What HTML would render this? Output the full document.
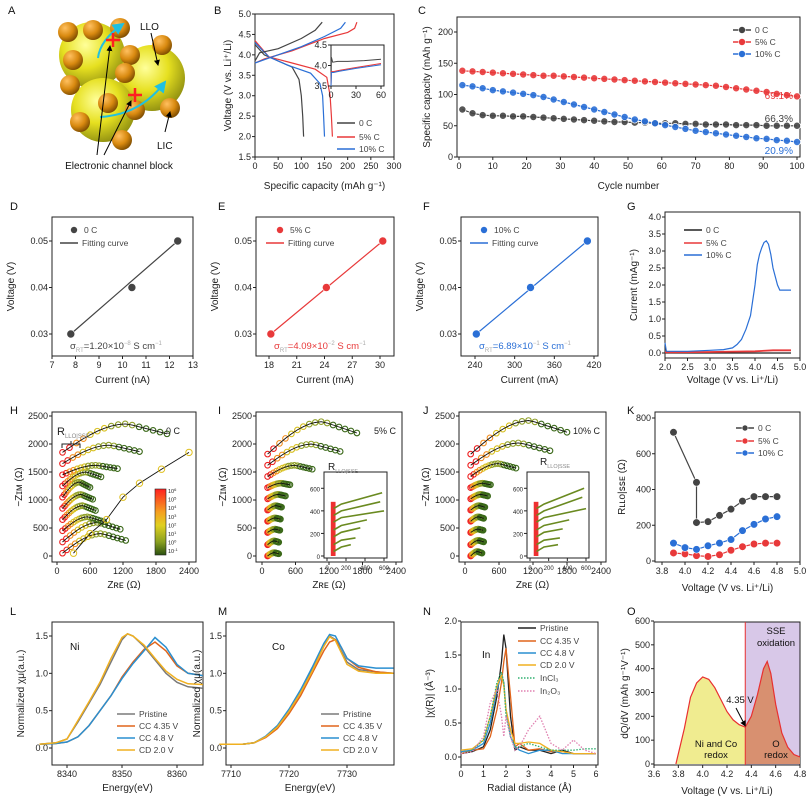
<!DOCTYPE html>
<html><head><meta charset="utf-8">
<style>
html,body{margin:0;padding:0;background:#fff;}
svg{display:block;font-family:"Liberation Sans",Arial,sans-serif;}
</style></head>
<body>
<svg id="fig" width="808" height="802" viewBox="0 0 808 802" xmlns="http://www.w3.org/2000/svg">
<defs>
<radialGradient id="ysph" cx="0.4" cy="0.35" r="0.7"><stop offset="0" stop-color="#ffff9a"/><stop offset="0.5" stop-color="#e6e020"/><stop offset="1" stop-color="#8a8a10"/></radialGradient>
<radialGradient id="osph" cx="0.35" cy="0.3" r="0.75"><stop offset="0" stop-color="#ffc060"/><stop offset="0.55" stop-color="#d98a10"/><stop offset="1" stop-color="#7a4a00"/></radialGradient>
<linearGradient id="cbar" x1="0" y1="0" x2="0" y2="1"><stop offset="0" stop-color="#ff2020"/><stop offset="0.35" stop-color="#f5a020"/><stop offset="0.55" stop-color="#e0d020"/><stop offset="0.8" stop-color="#8aa020"/><stop offset="1" stop-color="#2a5010"/></linearGradient>
<marker id="arr" markerWidth="6" markerHeight="6" refX="5" refY="3" orient="auto"><path d="M0,0 L6,3 L0,6 z" fill="#000"/></marker>
<marker id="carr" markerWidth="6" markerHeight="6" refX="5" refY="3" orient="auto"><path d="M0,0 L6,3 L0,6 z" fill="#20c0e0"/></marker>
</defs>
</svg>
<script>
// ---------- DATA ----------
const bSeries = ['0 C','5% C','10% C'];
const bDisCap0 = [0,20,50,80,95,100,103,105];
const bDisV0 = [4.25,4.0,3.85,3.7,3.4,3.0,2.5,2.0];
const bDisCap5 = [0,30,80,130,155,162,165,167];
const bDisV5 = [4.35,3.95,3.8,3.65,3.45,3.0,2.5,2.0];
const bDisCap10 = [0,30,70,120,140,146,148,150];
const bDisV10 = [4.3,3.95,3.75,3.55,3.3,3.0,2.5,2.0];
const bChCap0 = [0,10,50,100,130,145];
const bChV0 = [3.85,4.05,4.15,4.4,4.6,4.8];
const bChCap5 = [0,20,80,150,200,215,220];
const bChV5 = [3.8,3.9,4.1,4.4,4.55,4.65,4.8];
const bChCap10 = [0,30,100,150,185,195];
const bChV10 = [3.8,3.92,4.2,4.45,4.65,4.8];

const cCycles = [1,4,7,10,13,16,19,22,25,28,31,34,37,40,43,46,49,52,55,58,61,64,67,70,73,76,79,82,85,88,91,94,97,100];
const cCap5 = [138,137,136,135,134,133,132,131,130,130,129,128,127,126,125,124,123,122,121,120,119,118,117,116,115,114,112,110,108,106,104,101,99,97];
const cCap10 = [115,113,110,107,105,103,101,99,96,92,88,84,80,76,72,68,64,60,57,54,51,48,45,42,40,38,36,34,32,30,29,27,26,24];
const cCap0 = [76,70,67,66,66,65,65,64,63,62,61,60,59,58,57,56,56,55,55,54,54,54,53,53,52,52,52,51,51,51,50,50,50,50];

const dVolt = [0.03,0.04,0.05];
const dCur0 = [7.8,10.4,12.35];
const eCur5 = [18.2,24.2,30.3];
const fCur10 = [242,324,410];

const gV10 = [2.0,2.03,2.1,2.5,3.0,3.3,3.5,3.6,3.7,3.8,3.9,4.0,4.05,4.1,4.15,4.2,4.25,4.3,4.35,4.4,4.5,4.55,4.6,4.7,4.8];
const gI10 = [0.3,0.05,0.05,0.05,0.08,0.1,0.15,0.25,0.4,0.7,1.1,2.0,2.6,2.9,3.1,3.25,3.3,3.2,2.9,2.5,2.0,1.85,1.85,1.85,1.85];
const gV5 = [2.0,3.0,3.5,4.0,4.4,4.8];
const gI5 = [0.02,0.03,0.04,0.05,0.08,0.08];
const gV0 = [2.0,4.8];
const gI0 = [0.0,0.0];

const hStart = [50,250,450,650,850,1050,1250,1450,1650,1850];
const hEnd = [1250,1150,850,700,650,600,800,1100,1500,2000];
const hPeak = [400,600,700,900,1100,1320,1500,1620,1980,2360];
const hDiagX = [300,600,900,1200,1500,1900,2400];
const hDiagY = [50,400,650,1050,1300,1550,1850];
const iStart = [0,200,420,620,820,1020,1220,1420,1620,1820];
const iEnd = [300,300,320,330,350,420,500,900,1400,1700];
const iPeak = [60,270,480,680,900,1100,1300,1620,2000,2400];
const jStart = [0,200,420,620,820,1020,1220,1420,1620,1820];
const jEnd = [300,330,320,330,350,400,450,900,1500,1800];
const jPeak = [80,280,480,700,900,1100,1300,1650,2020,2420];

const kV0 = [3.9,4.1,4.1,4.2,4.3,4.4,4.5,4.6,4.7,4.8];
const kR0 = [720,440,215,220,255,290,335,360,360,360];
const kV = [3.9,4.0,4.1,4.2,4.3,4.4,4.5,4.6,4.7,4.8];
const kR5 = [45,40,30,25,35,60,80,95,100,100];
const kR10 = [100,75,65,85,100,120,170,205,235,248];

const lE = [8335,8338,8340,8342,8344,8346,8348,8350,8351,8352,8354,8356,8358,8360,8362,8364.7];
const lPristine = [0.05,0.07,0.12,0.35,0.6,0.85,1.15,1.45,1.53,1.5,1.36,1.18,1.0,0.88,0.82,0.8];
const lCD = [0.05,0.07,0.12,0.37,0.62,0.88,1.2,1.48,1.53,1.5,1.38,1.2,1.03,0.92,0.86,0.85];
const lCC435 = [0.05,0.06,0.08,0.15,0.3,0.5,0.7,0.95,1.05,1.15,1.32,1.42,1.3,1.1,1.0,0.97];
const lCC48 = [0.05,0.06,0.08,0.15,0.3,0.5,0.7,0.93,1.03,1.13,1.3,1.48,1.35,1.12,1.0,0.97];

const mE = [7708,7712,7714,7716,7718,7720,7722,7724,7726,7727,7728,7729,7730,7732,7735,7738];
const mPristine = [0.05,0.05,0.07,0.15,0.28,0.5,0.75,1.05,1.38,1.5,1.45,1.3,1.15,1.05,1.02,1.0];
const mCC435 = [0.05,0.05,0.07,0.14,0.26,0.46,0.7,1.0,1.3,1.42,1.45,1.35,1.2,1.08,1.02,1.0];
const mCC48 = [0.05,0.05,0.07,0.16,0.3,0.52,0.78,1.08,1.4,1.52,1.5,1.35,1.2,1.1,1.07,1.07];
const mCD = [0.05,0.05,0.07,0.15,0.28,0.49,0.74,1.03,1.36,1.49,1.44,1.28,1.12,1.03,1.0,1.0];

const nR = [0,0.5,1.0,1.3,1.6,1.8,1.9,2.0,2.2,2.4,2.6,3.0,3.5,4.0,4.5,5.0,5.5,6.0];
const nPristine = [0.05,0.08,0.15,0.4,0.9,1.4,1.8,1.6,0.6,0.1,0.15,0.1,0.1,0.05,0.1,0.05,0.05,0.05];
const nCC435 = [0.05,0.1,0.12,0.3,0.7,1.1,1.4,1.6,0.9,0.15,0.2,0.1,0.12,0.08,0.08,0.05,0.05,0.05];
const nCC48 = [0.08,0.1,0.2,0.5,1.0,1.2,1.1,0.7,0.3,0.15,0.1,0.05,0.1,0.1,0.05,0.05,0.05,0.05];
const nCD = [0.1,0.12,0.25,0.6,1.05,1.2,1.05,0.7,0.4,0.2,0.2,0.22,0.2,0.1,0.08,0.05,0.05,0.05];
const nInCl3 = [0.05,0.1,0.25,0.6,1.1,1.25,1.1,0.6,0.3,0.15,0.15,0.2,0.15,0.1,0.1,0.1,0.12,0.12];
const nIn2O3 = [0.05,0.08,0.3,0.8,1.0,0.6,0.3,0.6,0.3,0.1,0.15,0.4,0.6,0.2,0.1,0.25,0.1,0.05];

const oV = [3.78,3.85,3.9,3.95,4.0,4.05,4.1,4.15,4.2,4.25,4.3,4.35,4.4,4.45,4.5,4.53,4.56,4.6,4.65,4.7,4.75,4.8];
const oDQ = [0,150,280,340,365,355,320,270,220,185,165,155,200,290,400,430,380,250,130,70,40,30];

// ---------- HELPERS ----------
const NS='http://www.w3.org/2000/svg';
const svg=document.getElementById('fig');
function E(tag,a,p){const e=document.createElementNS(NS,tag);for(const k in a)e.setAttribute(k,a[k]);(p||svg).appendChild(e);return e;}
function T(x,y,s,a,p){const t=E('text',Object.assign({x:x,y:y,'font-size':9,fill:'#222'},a||{}),p);t.textContent=s;return t;}
function lin(pa,va,pb,vb){return v=>pa+(v-va)*(pb-pa)/(vb-va);}

function axes(o){
  const X=lin(o.xm[0],o.xm[1],o.xm[2],o.xm[3]);
  const Y=lin(o.ym[0],o.ym[1],o.ym[2],o.ym[3]);
  const g=E('g',{});
  
  
  const r=E('rect',{x:o.box[0],y:o.box[2],width:o.box[1]-o.box[0],height:o.box[3]-o.box[2],fill:'none',stroke:'#222','stroke-width':1},g);
  
  
  o.xt.forEach(v=>{
    const px=X(v);
    const tk=E('line',{x1:px,x2:px,y1:o.box[3],y2:o.box[3]+3,stroke:'#222'},g);
    
    
    const lb=T(px,o.box[3]+12,o.xf?o.xf(v):String(v),{'text-anchor':'middle'},g);
    
    
  });
  o.yt.forEach(v=>{
    const py=Y(v);
    const tk=E('line',{x1:o.box[0]-3,x2:o.box[0],y1:py,y2:py,stroke:'#222'},g);
    
    
    const lb=T(o.box[0]-4,py+3,o.yf?o.yf(v):String(v),{'text-anchor':'end'},g);
    
    
  });
  if(o.xtitle){const xt=T((o.box[0]+o.box[1])/2,o.xty,o.xtitle,{'text-anchor':'middle','font-size':10},g);
    
    }
  if(o.ytitle){const cy=(o.box[2]+o.box[3])/2;const yx=o.ytx;const yt=T(yx,cy,o.ytitle,{'text-anchor':'middle','font-size':10,transform:'rotate(-90 '+yx+' '+cy+')'},g);
    
    }
  return {X,Y,g};
}
function line(ax,xs,ys,col,name,extra){
  const pts=xs.map((x,i)=>ax.X(x).toFixed(1)+','+ax.Y(ys[i]).toFixed(1)).join(' ');
  const p=E('polyline',Object.assign({points:pts,fill:'none',stroke:col,'stroke-width':1.2},extra||{}));
  
  
  return p;
}
function panelLabel(x,y,s){const t=T(x,y,s,{'font-size':11,fill:'#111'});
  
  }
function legLine(x,y,col,label,dash){
  const l=E('line',{x1:x,x2:x+18,y1:y-3,y2:y-3,stroke:col,'stroke-width':1.5,'stroke-dasharray':dash||'none'});
  
  
  const t=T(x+22,y,label,{'font-size':8.5,fill:'#444'});
  
  
}
function dot(cx,cy,col,r,name){
  const c=E('circle',{cx:cx,cy:cy,r:r||3.5,fill:col,stroke:'#fff','stroke-width':0.6});
  
  
  return c;
}

const GR='#444',RD='#e8393a',BL='#2a6fd6';

// ---------- PANEL A ----------
panelLabel(8,14,'A');
[[92,55,33],[152,78,33],[103,110,32]].forEach(s=>{
  const c=E('circle',{cx:s[0],cy:s[1],r:s[2],fill:'url(#ysph)'});
  
  
});
[[68,32],[93,30],[120,28],[162,45],[73,60],[130,55],[125,73],[70,85],[108,103],[135,110],[170,108],[80,122],[122,140]].forEach(b=>{
  const c=E('circle',{cx:b[0],cy:b[1],r:10,fill:'url(#osph)'});
  
  
});
const a1=E('path',{d:'M98,58 Q100,40 123,24',fill:'none',stroke:'#20c0e0','stroke-width':2,'marker-end':'url(#carr)'});


const a2=E('path',{d:'M100,117 Q140,115 165,82',fill:'none',stroke:'#20c0e0','stroke-width':2,'marker-end':'url(#carr)'});


[[113,40],[135,95]].forEach(c=>{
  const x=E('path',{d:`M${c[0]-7},${c[1]} h14 M${c[0]},${c[1]-7} v14`,stroke:'#ff2020','stroke-width':2.5});
  
  
});
const pl1=E('line',{x1:97,y1:155,x2:110,y2:46,stroke:'#000','stroke-width':1,'marker-end':'url(#arr)'});


const pl2=E('line',{x1:104,y1:155,x2:131,y2:101,stroke:'#000','stroke-width':1,'marker-end':'url(#arr)'});


const pl3=E('line',{x1:151,y1:33,x2:158,y2:65,stroke:'#000','stroke-width':1,'marker-end':'url(#arr)'});


const pl4=E('line',{x1:165,y1:132,x2:170,y2:112,stroke:'#000','stroke-width':1,'marker-end':'url(#arr)'});


let tA=T(140,30,'LLO',{'font-size':10,fill:'#111'});


tA=T(157,149,'LIC',{'font-size':10,fill:'#111'});


tA=T(119,169,'Electronic channel block',{'font-size':10,fill:'#111','text-anchor':'middle'});



// ---------- PANEL B ----------
panelLabel(214,14,'B');
const axB=axes({name:'b',box:[255,394,14,157],xm:[255,0,394,300],ym:[157,1.5,14,5.0],xt:[0,50,100,150,200,250,300],yt:[1.5,2,2.5,3,3.5,4,4.5,5],yf:v=>v.toFixed(1),xtitle:'Specific capacity (mAh g\u207B\u00B9)',xty:189,ytitle:'Voltage (V vs. Li\u207A/Li)',ytx:231});
line(axB,bDisCap0,bDisV0,GR,'b-discharge-0c');
line(axB,bDisCap5,bDisV5,RD,'b-discharge-5c');
line(axB,bDisCap10,bDisV10,BL,'b-discharge-10c');
line(axB,bChCap0,bChV0,GR,'b-charge-0c');
line(axB,bChCap5,bChV5,RD,'b-charge-5c');
line(axB,bChCap10,bChV10,BL,'b-charge-10c');
legLine(337,126,GR,bSeries[0]);legLine(337,140,RD,bSeries[1]);legLine(337,152,BL,bSeries[2]);
// inset
const axBi=axes({name:'b-inset',box:[331,384,45,86],xm:[331,0,381,60],ym:[86,3.5,45,4.5],xt:[0,30,60],yt:[3.5,4.0,4.5],yf:v=>v.toFixed(1)});
line(axBi,[0,0.5,2,8,20,40,60],[3.5,4.2,4.08,4.1,4.1,4.12,4.15],GR,'b-inset-0c',{'stroke-width':1});
line(axBi,[0,0.5,3,10,30,60],[3.5,3.85,3.85,3.88,3.95,4.05],RD,'b-inset-5c',{'stroke-width':1});
line(axBi,[0,0.5,3,10,30,60],[3.5,3.83,3.83,3.86,3.93,4.02],BL,'b-inset-10c',{'stroke-width':1});

// ---------- PANEL C ----------
panelLabel(418,14,'C');
const axC=axes({name:'c',box:[457,800,17,157],xm:[459,0,797,100],ym:[157,0,32,200],xt:[0,10,20,30,40,50,60,70,80,90,100],yt:[0,50,100,150,200],xtitle:'Cycle number',xty:189,ytitle:'Specific capacity (mAh g\u207B\u00B9)',ytx:430});
[[cCap0,GR,'0c'],[cCap5,RD,'5c'],[cCap10,BL,'10c']].forEach(s=>{
  line(axC,cCycles,s[0],s[1],'c-line-'+s[2]);
  cCycles.forEach((c,i)=>{
    const m=E('circle',{cx:axC.X(c),cy:axC.Y(s[0][i]),r:3.6,fill:s[1],stroke:'#fff','stroke-width':0.7,'fill-opacity':0.9});
    
    
  });
});
[[33,GR,'0 C'],[45,RD,'5% C'],[57,BL,'10% C']].forEach(l=>{legLine(733,l[0],l[1],l[2]);dot(742,l[0]-3,l[1],3.5,'c-legend-marker');});
let tc=T(793,99,'69.1%',{fill:RD,'text-anchor':'end','font-size':10});


tc=T(793,122,'66.3%',{fill:GR,'text-anchor':'end','font-size':10});


tc=T(793,154,'20.9%',{fill:BL,'text-anchor':'end','font-size':10});



// ---------- PANELS D E F ----------
function cond(lbl,xL,box,xm,xt,cur,col,sig,unit,legx){
  panelLabel(lbl[1],210,lbl[0]);
  const ax=axes({name:lbl[0].toLowerCase(),box:box,xm:xm,ym:[334,0.03,241,0.05],xt:xt,yt:[0.03,0.04,0.05],yf:v=>v.toFixed(2),xtitle:'Current ('+unit+')',xty:383,ytitle:'Voltage (V)',ytx:box[0]-38});
  line(ax,[cur[0],cur[2]],[dVolt[0],dVolt[2]],col,lbl[0].toLowerCase()+'-fit-line');
  cur.forEach((c,i)=>dot(ax.X(c),ax.Y(dVolt[i]),col,4,lbl[0].toLowerCase()+'-point'));
  dot(legx,230,col,3.5,'legend-marker');
  const t=T(legx+10,233,xL,{'font-size':8.5,fill:'#444'});
  
  
  legLine(legx-14,246,col,'Fitting curve');
  const s=T(box[0]+18,349,'',{'font-size':9.5,fill:col});
  
  
  s.innerHTML='\u03C3<tspan font-size="6" dy="3" fill="#aaa">RT</tspan><tspan dy="-3">='+sig[0]+'\u00D710</tspan><tspan font-size="6" dy="-4" fill="#aaa">'+sig[1]+'</tspan><tspan dy="4"> S cm</tspan><tspan font-size="6" dy="-4" fill="#aaa">\u22121</tspan>';
}
cond(['D',10],'0 C',[52,193,217,356],[52,7,193,13],[7,8,9,10,11,12,13],dCur0,GR,['1.20','\u22128'],'nA',74);
cond(['E',218],'5% C',[256,394,217,356],[269,18,380,30],[18,21,24,27,30],eCur5,RD,['4.09','\u22122'],'mA',280);
cond(['F',423],'10% C',[461,598,217,356],[475,240,594,420],[240,300,360,420],fCur10,BL,['6.89','\u22121'],'mA',484);

// ---------- PANEL G ----------
panelLabel(627,210,'G');
const axG=axes({name:'g',box:[665,800,212,358],xm:[665,2,800,5],ym:[353,0,217,4],xt:[2,2.5,3,3.5,4,4.5,5],xf:v=>v.toFixed(1),yt:[0,0.5,1,1.5,2,2.5,3,3.5,4],yf:v=>v.toFixed(1),xtitle:'Voltage (V vs. Li\u207A/Li)',xty:383,ytitle:'Current (mAg\u207B\u00B9)',ytx:637});
line(axG,gV0,gI0,'#222','g-curve-0c');
line(axG,gV5,gI5,RD,'g-curve-5c',{'stroke-width':1.8});
line(axG,gV10,gI10,BL,'g-curve-10c');
legLine(684,233,'#222','0 C');legLine(684,246,RD,'5% C');legLine(684,258,BL,'10% C');

// ---------- PANELS H I J ----------
function mcol(t){return t<0.12?'#ee2020':t<0.25?'#f59020':t<0.45?'#d8c020':t<0.7?'#90a028':'#3a6818';}
function nyq(ax,starts,ends,peaks,nm){
  starts.forEach((s,i)=>{
    const xs=[],ys=[];
    const n=16;
    for(let k=0;k<n;k++){const t=k/(n-1);xs.push(100+t*(ends[i]-100));ys.push(s+(peaks[i]-s)*Math.sin(Math.PI*0.5*Math.min(1,t*1.6))-(t>0.62?(peaks[i]-s)*0.35*(t-0.62)/0.38:0));}
    xs.forEach((x,k)=>{
      const c=E('circle',{cx:ax.X(x),cy:ax.Y(ys[k]),r:2.8,fill:'none',stroke:mcol(k/(n-1)),'stroke-width':1.1});
      
      
    });
    line(ax,xs,ys,'#111',nm+'-fit-'+i,{'stroke-width':0.9});
  });
}
function nyqInset(box,starts,ends,peaks,nm){
  const ax=axes({name:nm+'-inset',box:box,xm:[box[0]+3,0,box[1]-3,600],ym:[box[3]-2,0,box[2]+5,700],xt:[0,200,400,600],yt:[0,200,400,600]});
  ax.g.querySelectorAll('text').forEach(t=>t.setAttribute('font-size','6'));
  const r=E('rect',{x:ax.X(40),y:ax.Y(480),width:ax.X(90)-ax.X(40),height:ax.Y(0)-ax.Y(480),fill:'#ee3030'});
  
  
  starts.forEach((s,i)=>{
    const p=line(ax,[70,150,ends[i]],[s,s+40,peaks[i]],'#6a8a20',nm+'-inset-curve-'+i,{'stroke-width':1.6});
  });
  return ax;
}
panelLabel(10,414,'H');
const axH=axes({name:'h',box:[52,196,412,562],xm:[57,0,189,2400],ym:[556,0,416,2500],xt:[0,600,1200,1800,2400],yt:[0,500,1000,1500,2000,2500],xtitle:'Z\u0280\u1D07 (\u03A9)',xty:588,ytitle:'\u2212Z\u026A\u1D0D (\u03A9)',ytx:22});
nyq(axH,hStart,hEnd,hPeak,'h');
line(axH,hDiagX,hDiagY,'#111','h-diagonal-fit',{'stroke-width':0.9});
hDiagX.forEach((x,i)=>{const c=E('circle',{cx:axH.X(x),cy:axH.Y(hDiagY[i]),r:3.2,fill:'none',stroke:'#e0c020','stroke-width':1});
  
  });
let th=T(180,434,'0 C',{'font-size':9,'text-anchor':'end'});


th=T(57,435,'',{'font-size':11});


th.innerHTML='R<tspan font-size="6" dy="3" fill="#888">LLO|SSE</tspan>';
const br=E('path',{d:'M62,448 v-4 h18 v4 M71,444 v-3',fill:'none',stroke:'#222'});


const cb=E('rect',{x:155,y:489,width:11,height:66,fill:'url(#cbar)',stroke:'#222','stroke-width':0.6});


['6','5','4','3','2','1','0','-1'].forEach((e,i)=>{const t=T(168,493+i*8.6,'',{'font-size':5.5});
  
  
  t.innerHTML='10<tspan dy="-2" font-size="4">'+e+'</tspan>';});

panelLabel(218,414,'I');
const axI=axes({name:'i',box:[256,402,412,562],xm:[262,0,396,2400],ym:[556,0,416,2500],xt:[0,600,1200,1800,2400],yt:[0,500,1000,1500,2000,2500],xtitle:'Z\u0280\u1D07 (\u03A9)',xty:588,ytitle:'\u2212Z\u026A\u1D0D (\u03A9)',ytx:226});
nyq(axI,iStart,iEnd,iPeak,'i');
let ti=T(396,434,'5% C',{'font-size':9,'text-anchor':'end'});


nyqInset([324,387,472,558],[40,100,170,230,300,360,420],[250,300,350,420,600,560,580],[100,160,250,320,400,480,560],'i');
ti=T(328,470,'',{'font-size':10});


ti.innerHTML='R<tspan font-size="5.5" dy="3" fill="#888">LLO|SSE</tspan>';

panelLabel(423,414,'J');
const axJ=axes({name:'j',box:[459,606,412,562],xm:[465,0,601,2400],ym:[556,0,416,2500],xt:[0,600,1200,1800,2400],yt:[0,500,1000,1500,2000,2500],xtitle:'Z\u0280\u1D07 (\u03A9)',xty:588,ytitle:'\u2212Z\u026A\u1D0D (\u03A9)',ytx:429});
nyq(axJ,jStart,jEnd,jPeak,'j');
let tj=T(600,434,'10% C',{'font-size':9,'text-anchor':'end'});


nyqInset([527,589,472,558],[40,100,170,230,300,360,420],[300,320,350,420,600,560,580],[100,160,240,320,420,520,600],'j');
tj=T(540,465,'',{'font-size':10});


tj.innerHTML='R<tspan font-size="5.5" dy="3" fill="#888">LLO|SSE</tspan>';

// ---------- PANEL K ----------
panelLabel(627,414,'K');
const axK=axes({name:'k',box:[655,800,412,562],xm:[662,3.8,800,5.0],ym:[561,0,418,800],xt:[3.8,4.0,4.2,4.4,4.6,4.8,5.0],xf:v=>v.toFixed(1),yt:[0,200,400,600,800],xtitle:'Voltage (V vs. Li\u207A/Li)',xty:591,ytitle:'R\u029F\u029F\u1D0F|\uA731\uA731\u1D07 (\u03A9)',ytx:625});
[[kV0,kR0,GR,'0c'],[kV,kR5,RD,'5c'],[kV,kR10,BL,'10c']].forEach(s=>{
  line(axK,s[0],s[1],s[2],'k-line-'+s[3]);
  s[0].forEach((v,i)=>dot(axK.X(v),axK.Y(s[1][i]),s[2],3.8,'k-point-'+s[3]));
});
[[431,GR,'0 C'],[444,RD,'5% C'],[456,BL,'10% C']].forEach(l=>{legLine(736,l[0],l[1],l[2]);dot(745,l[0]-3,l[1],3,'k-legend-marker');});

// ---------- PANELS L M ----------
const xasCols=['#7a7a7a','#e0651c','#2a8fd0','#f0b020'];
const xasNames=['Pristine','CC 4.35 V','CC 4.8 V','CD 2.0 V'];
panelLabel(10,615,'L');
const axL=axes({name:'l',box:[52,203,622,765],xm:[67,8340,177,8360],ym:[748,0,636,1.5],xt:[8340,8350,8360],yt:[0,0.5,1.0,1.5],yf:v=>v.toFixed(1),xtitle:'Energy(eV)',xty:791,ytitle:'Normalized \u03C7\u03BC(a.u.)',ytx:24});
[lPristine,lCC435,lCC48,lCD].forEach((s,i)=>line(axL,lE,s,xasCols[i],'l-curve-'+i,{'stroke-width':1.5}));
xasNames.forEach((n,i)=>legLine(117,717+i*12,xasCols[i],n));
let tl=T(70,650,'Ni',{'font-size':10,fill:'#111'});



panelLabel(218,615,'M');
const axM=axes({name:'m',box:[226,394,622,765],xm:[231,7710,347,7730],ym:[748,0,636,1.5],xt:[7710,7720,7730],yt:[0,0.5,1.0,1.5],yf:v=>v.toFixed(1),xtitle:'Energy(eV)',xty:791,ytitle:'Normalized \u03C7\u03BC(a.u.)',ytx:200});
[mPristine,mCC435,mCC48,mCD].forEach((s,i)=>line(axM,mE,s,xasCols[i],'m-curve-'+i,{'stroke-width':1.5}));
xasNames.forEach((n,i)=>legLine(321,717+i*12,xasCols[i],n));
let tm=T(272,650,'Co',{'font-size':10,fill:'#111'});



// ---------- PANEL N ----------
panelLabel(423,615,'N');
const axN=axes({name:'n',box:[461,598,622,765],xm:[461,0,596,6],ym:[757,0,621,2.0],xt:[0,1,2,3,4,5,6],yt:[0,0.5,1.0,1.5,2.0],yf:v=>v.toFixed(1),xtitle:'Radial distance (\u00C5)',xty:791,ytitle:'|\u03C7(R)| (\u00C5\u207B\u00B3)',ytx:433});
[nPristine,nCC435,nCC48,nCD].forEach((s,i)=>line(axN,nR,s,['#222','#e0651c','#2a8fd0','#f0b020'][i],'n-curve-'+i,{'stroke-width':1.3}));
line(axN,nR,nInCl3,'#30b070','n-incl3',{'stroke-dasharray':'1.5,1.5','stroke-width':1.3});
line(axN,nR,nIn2O3,'#e080b0','n-in2o3',{'stroke-dasharray':'1.5,1.5','stroke-width':1.3});
legLine(518,631,'#222','Pristine');legLine(518,644,'#e0651c','CC 4.35 V');legLine(518,656,'#2a8fd0','CC 4.8 V');legLine(518,668,'#f0b020','CD 2.0 V');
legLine(518,681,'#30b070','InCl\u2083','1.5,1.5');legLine(518,694,'#e080b0','In\u2082O\u2083','1.5,1.5');
let tn=T(482,658,'In',{'font-size':10,fill:'#111'});



// ---------- PANEL O ----------
panelLabel(627,615,'O');
const axO=axes({name:'o',box:[654,800,622,765],xm:[654,3.6,800,4.8],ym:[764,0,621,600],xt:[3.6,3.8,4.0,4.2,4.4,4.6,4.8],xf:v=>v.toFixed(1),yt:[0,100,200,300,400,500,600],xtitle:'Voltage (V vs. Li\u207A/Li)',xty:794,ytitle:'dQ/dV (mAh g\u207B\u00B9V\u207B\u00B9)',ytx:628});
const ssex=axO.X(4.35);
const sse=E('rect',{x:ssex,y:622,width:800-ssex,height:143,fill:'#d8c8e8'});


axO.g.parentNode.appendChild(axO.g);
const split=oV.indexOf(4.35);
const f1=oV.slice(0,split+1).map((v,i)=>axO.X(v)+','+axO.Y(oDQ[i])).join(' ');
const a1p=E('polygon',{points:axO.X(oV[0])+','+axO.Y(0)+' '+f1+' '+axO.X(4.35)+','+axO.Y(0),fill:'#f0ec90'});


const f2=oV.slice(split).map((v,i)=>axO.X(v)+','+axO.Y(oDQ[i+split])).join(' ');
const a2p=E('polygon',{points:axO.X(4.35)+','+axO.Y(0)+' '+f2+' '+axO.X(4.8)+','+axO.Y(0),fill:'#d89070'});


line(axO,oV,oDQ,'#e83030','o-dqdv-curve',{'stroke-width':1.2});
const vl=E('line',{x1:ssex,x2:ssex,y1:622,y2:765,stroke:'#e83030','stroke-width':1});


[['SSE',776,634],['oxidation',776,646],['4.35 V',740,703],['Ni and Co',716,747],['redox',716,758],['O',776,747],['redox',776,758]].forEach(t=>{
  const e=T(t[1],t[2],t[0],{'font-size':9.5,'text-anchor':'middle',fill:'#111'});
  
  
});
const oa=E('line',{x1:736,y1:708,x2:ssex,y2:axO.Y(160),stroke:'#000','marker-end':'url(#arr)'});


</script>
</body></html>
